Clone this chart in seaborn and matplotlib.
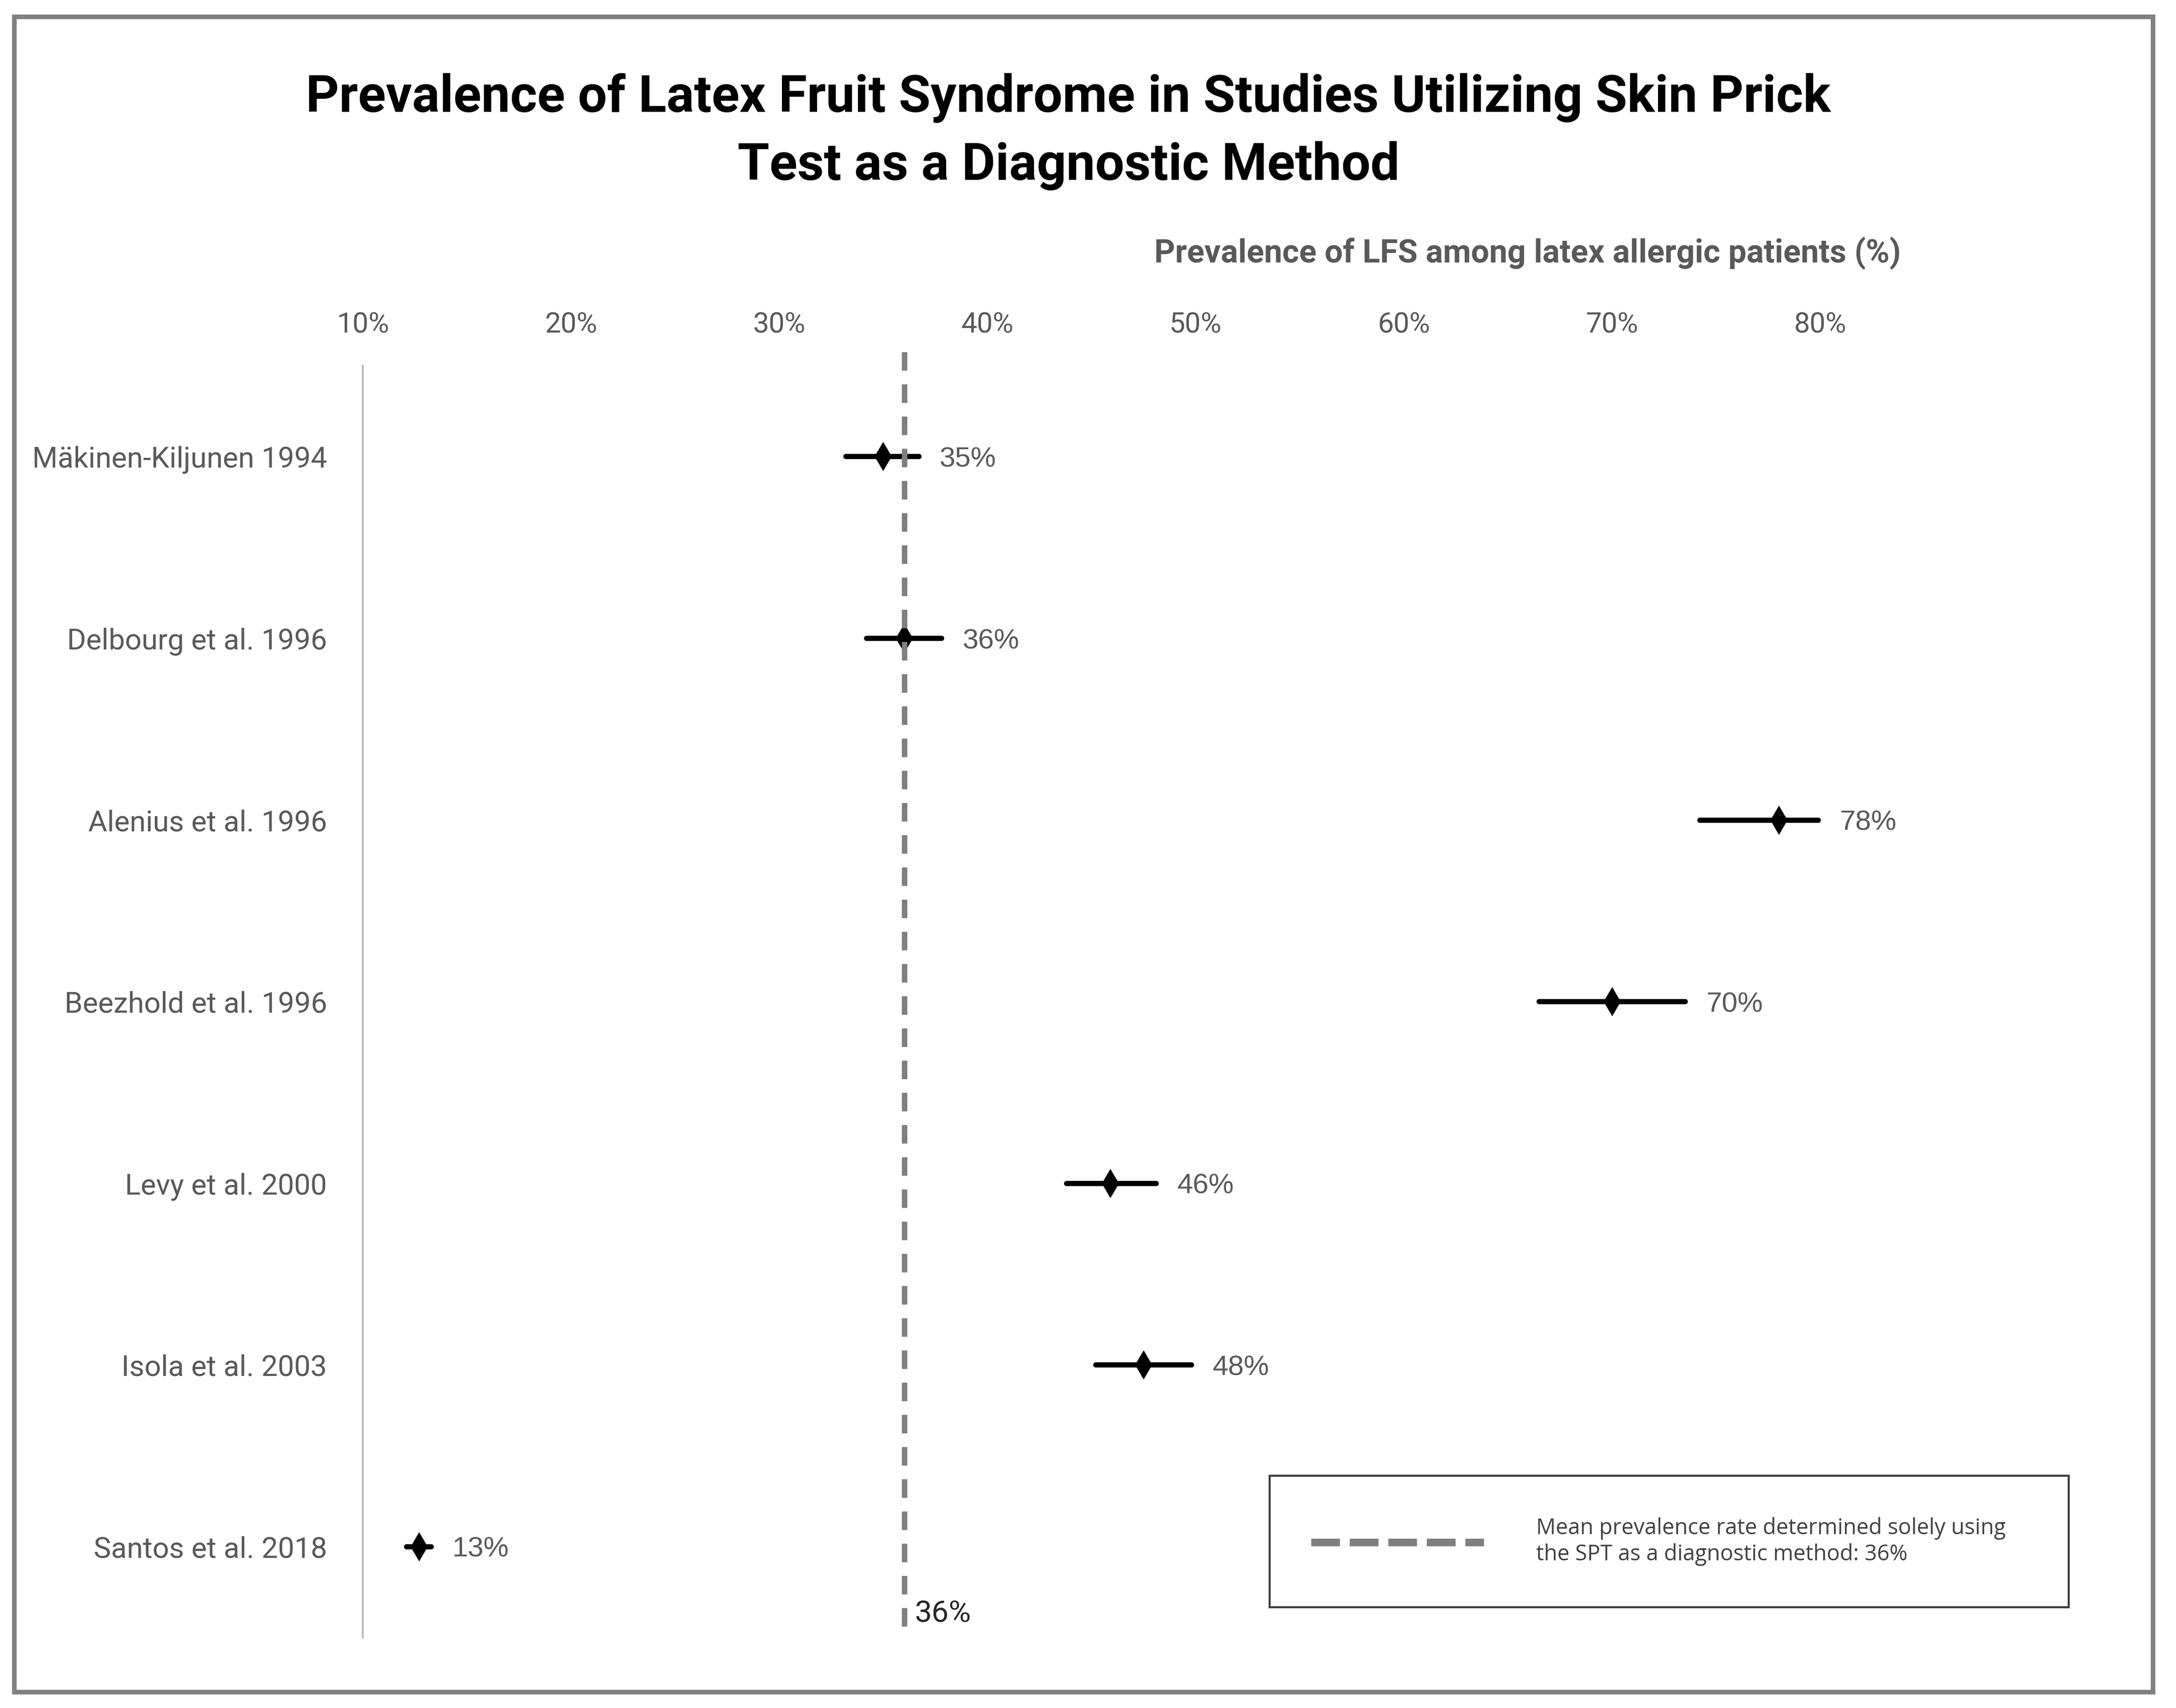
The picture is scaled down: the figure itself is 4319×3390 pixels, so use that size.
import numpy as np
import pandas as pd
import matplotlib
matplotlib.use("Agg")
import matplotlib.pyplot as plt
import seaborn as sns
from matplotlib.lines import Line2D
from matplotlib.patches import Rectangle

# data
studies = ["Mäkinen-Kiljunen 1994", "Delbourg et al. 1996", "Alenius et al. 1996",
           "Beezhold et al. 1996", "Levy et al. 2000", "Isola et al. 2003",
           "Santos et al. 2018"]
prevalence = [35.0, 36.0, 78.0, 70.0, 45.9, 47.5, 12.7]
ci_low = [33.2, 34.2, 74.2, 66.5, 43.8, 45.2, 12.1]
ci_high = [36.7, 37.8, 79.9, 73.5, 48.1, 49.8, 13.3]
value_labels = ["35%", "36%", "78%", "70%", "46%", "48%", "13%"]
mean_value = 36
mean_label = "36%"
x_ticks = [10, 20, 30, 40, 50, 60, 70, 80]

# low / point / high per study -> median = point, 0-100 percentile = interval
rows = []
for s, lo, c, hi in zip(studies, ci_low, prevalence, ci_high):
    rows += [(s, lo), (s, c), (s, hi)]
df = pd.DataFrame(rows, columns=["study", "prevalence"])

sns.set_style("white")
plt.rcParams["font.family"] = ["Roboto", "DejaVu Sans"]

fig = plt.figure(figsize=(4319 / 300, 3390 / 300), dpi=300)
ax = fig.add_axes([0.1667, 0.0413, 0.8845 - 0.1667, 0.7858 - 0.0413])

sns.pointplot(data=df, x="prevalence", y="study", order=studies,
              estimator="median", errorbar=("pi", 100),
              color="black", linestyle="none", marker="d",
              markersize=9.8, markeredgewidth=0,
              err_kws={"linewidth": 2.5, "color": "black"}, ax=ax)

ax.set_xlim(10, 85)
ax.set_ylim(6.5, -0.5)

# mean prevalence reference line
ax.axvline(mean_value, ymin=0.0087, ymax=1.0202, color="#7f7f7f",
           linewidth=2.6, linestyle=(0, (3.4, 2.5)), clip_on=False)
ax.annotate(mean_label, xy=(mean_value, 0.0186),
            xycoords=("data", "axes fraction"), xytext=(5, 0),
            textcoords="offset points", ha="left", va="center",
            fontsize=14.5, color="#262626")

# value labels right of the error bars
for i, (hi, lab) in enumerate(zip(ci_high, value_labels)):
    ax.annotate(lab, xy=(hi, i), xytext=(10, -1.5), textcoords="offset points",
                ha="left", va="center", fontsize=13.5, color="#595959",
                family="Liberation Sans")

ax.xaxis.tick_top()
ax.set_xticks(x_ticks)
ax.set_xticklabels([f"{v}%" for v in x_ticks])
ax.tick_params(axis="x", length=0, pad=13, labelsize=13.5, labelcolor="#595959")
ax.tick_params(axis="y", length=0, pad=17, labelsize=13.9, labelcolor="#595959")
ax.set_xlabel("")
ax.set_ylabel("")
for side in ["top", "right", "bottom"]:
    ax.spines[side].set_visible(False)
ax.spines["left"].set_color("#bfbfbf")
ax.spines["left"].set_linewidth(1.0)
ax.grid(False)

# legend box
proxy = Line2D([], [], color="#7f7f7f", linewidth=3.6, linestyle=(0, (3.8, 1.3)))
leg = ax.legend(handles=[proxy],
                labels=["Mean prevalence rate determined solely using\nthe SPT as a diagnostic method: 36%"],
                loc="center", bbox_to_anchor=(0.5835, 0.0560, 0.3672, 0.0829),
                bbox_transform=fig.transFigure, mode="expand", frameon=True,
                fancybox=False, framealpha=1, edgecolor="#404040",
                borderpad=1.9, borderaxespad=0, handlelength=7.9, handletextpad=2.4,
                prop={"family": "Open Sans", "size": 10.4}, labelcolor="#404040")
leg.get_frame().set_linewidth(1.0)

# titles
fig.text(0.491, 0.9229,
         "Prevalence of Latex Fruit Syndrome in Studies Utilizing Skin Prick\nTest as a Diagnostic Method",
         ha="center", va="center", fontsize=24.6, fontweight="bold",
         linespacing=1.47, color="black")
fig.text(0.702, 0.852, "Prevalence of LFS among latex allergic patients (%)",
         ha="center", va="center", fontsize=15.4, fontweight="bold", color="#595959")

# outer frame
fig.add_artist(Rectangle((0.0065, 0.0094), 0.9829, 0.9808, transform=fig.transFigure,
                         fill=False, edgecolor="#808080", linewidth=2.2))

fig.savefig("out.png", dpi=300)
